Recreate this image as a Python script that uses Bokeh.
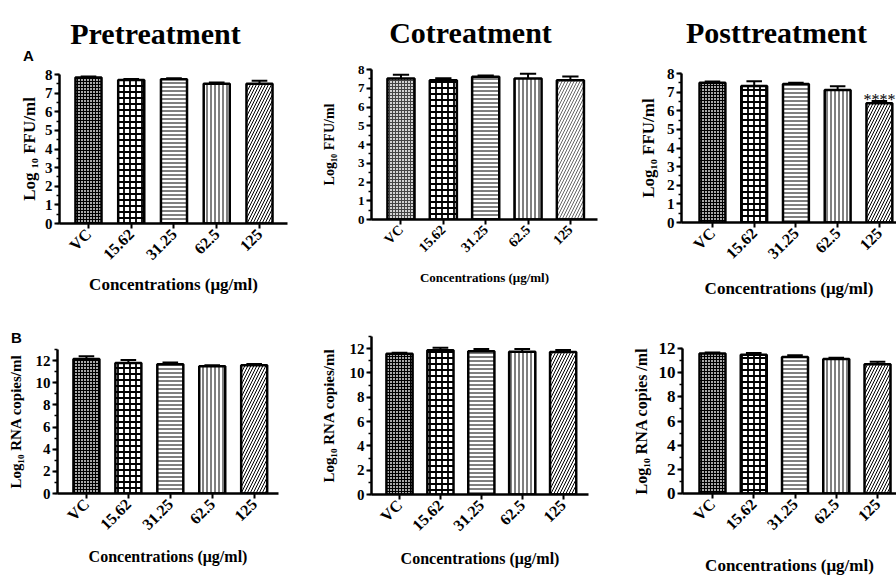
import math
from bokeh.plotting import figure
from bokeh.models import Range1d, FixedTicker, SingleIntervalTicker, Label
from bokeh.core.properties import value
from bokeh.layouts import row, column
from bokeh.embed import file_html
from bokeh.resources import INLINE

categories = ["VC", "15.62", "31.25", "62.5", "125"]

pre_ffu = [7.84, 7.71, 7.75, 7.51, 7.50]
pre_ffu_err = [0.05, 0.05, 0.05, 0.06, 0.16]
co_ffu = [7.52, 7.43, 7.61, 7.52, 7.43]
co_ffu_err = [0.20, 0.10, 0.07, 0.25, 0.20]
post_ffu = [7.50, 7.33, 7.44, 7.12, 6.40]
post_ffu_err = [0.07, 0.25, 0.07, 0.20, 0.13]

pre_rna = [12.15, 11.79, 11.67, 11.49, 11.58]
pre_rna_err = [0.25, 0.27, 0.15, 0.08, 0.12]
co_rna = [11.58, 11.86, 11.78, 11.75, 11.72]
co_rna_err = [0.08, 0.22, 0.19, 0.22, 0.16]
post_rna = [11.59, 11.48, 11.29, 11.13, 10.69]
post_rna_err = [0.08, 0.14, 0.16, 0.11, 0.22]

titles = ["Pretreatment", "Cotreatment", "Posttreatment"]
panel_letters = ["A", "B"]
x_title = "Concentrations (\u03bcg/ml)"
y_titles = ["Log \u2081\u2080 FFU/ml", "Log\u2081\u2080 FFU/ml", "Log\u2081\u2080 FFU/ml",
            "Log\u2081\u2080 RNA copies/ml", "Log\u2081\u2080 RNA copies/ml", "Log\u2081\u2080 RNA copies /ml"]
significance = "****"

SERIF = "Liberation Serif"
SANS = "Liberation Sans"

# pattern per category: (pattern, scale, weight, fill, hatch colour)
patterns = [
    ("cross", 3, 1.0, "#a8a8a8", "black"),
    ("cross", 6, 1.8, "white", "black"),
    ("horizontal_line", 4, 1.0, "white", "black"),
    ("vertical_line", 4, 1.0, "white", "black"),
    ("right_diagonal_line", 6, 1.0, "white", "black"),
]


def strip(w, h, items):
    s = figure(width=w, height=h, output_backend="svg", toolbar_location=None,
               x_range=Range1d(0, w), y_range=Range1d(h, 0),
               x_axis_type=None, y_axis_type=None, min_border=0, frame_align=False)
    s.outline_line_color = None
    s.background_fill_color = "white"
    s.border_fill_color = "white"
    for txt, x, y, font, size, align in items:
        s.text(x=[x], y=[y], text=[txt], text_font=value(font), text_font_style="bold",
               text_font_size=size, text_align=align, text_baseline="alphabetic", text_color="black")
    return s


def make_panel(vals, errs, spec):
    p = figure(width=spec["w"], height=spec["h"], output_backend="svg", toolbar_location=None,
               x_range=Range1d(*spec["xr"]), y_range=Range1d(0, spec["ytop"]),
               min_border_left=spec["bl"], min_border_right=spec["br"],
               min_border_top=spec["bt"], min_border_bottom=spec["bb"], frame_align=False)
    p.grid.visible = False
    p.outline_line_color = None
    p.background_fill_color = "white"
    p.border_fill_color = "white"

    xs = list(range(len(categories)))
    bw = spec["bw"]
    for i, x in enumerate(xs):
        pat, sc, wt, fc, hc = patterns[i]
        if spec.get("light"):
            if i == 4:
                hc = "#666666"
            if i == 0:
                fc = "#d2d2d2"
                hc = "#444444"
        p.vbar(x=[x], top=[vals[i]], width=bw, bottom=0, fill_color=fc, line_color="black",
               line_width=2.5, hatch_pattern=pat, hatch_scale=sc, hatch_color=hc,
               hatch_weight=wt)
    tops = [v + e for v, e in zip(vals, errs)]
    cw = bw * 0.3
    p.segment(x0=xs, y0=vals, x1=xs, y1=tops, line_color="black", line_width=2)
    p.segment(x0=[x - cw for x in xs], y0=tops, x1=[x + cw for x in xs], y1=tops,
              line_color="black", line_width=2)

    xa = p.xaxis[0]
    ya = p.yaxis[0]
    for ax in (xa, ya):
        ax.axis_line_width = 2.5
        ax.axis_line_color = "black"
        ax.major_tick_line_width = 2
        ax.major_tick_line_color = "black"
        ax.major_tick_in = 0
        ax.major_tick_out = 5
        ax.minor_tick_line_width = 1.5
        ax.minor_tick_in = 0
        ax.minor_tick_out = 3
        ax.major_label_text_font = SERIF
        ax.major_label_text_font_style = "bold"
        ax.major_label_text_color = "black"
        ax.axis_label_text_font = SERIF
        ax.axis_label_text_font_style = "bold"
        ax.axis_label_text_color = "black"
    xa.ticker = FixedTicker(ticks=xs)
    xa.major_label_overrides = {i: c for i, c in enumerate(categories)}
    xa.major_label_orientation = math.pi / 4
    xa.major_label_text_font_size = f"{spec['xtf']}px"
    xa.major_label_standoff = 3
    xa.axis_label = x_title
    xa.axis_label_text_font_size = f"{spec['xlf']}px"
    xa.axis_label_standoff = spec["xls"]

    ya.ticker = SingleIntervalTicker(interval=spec["yint"], num_minor_ticks=2)
    ya.major_label_text_font_size = f"{spec['ytf']}px"
    ya.major_label_standoff = 2
    ya.axis_label = spec["ylabel"]
    ya.axis_label_text_font_size = f"{spec['ylf']}px"
    ya.axis_label_standoff = spec["yls"]
    return p


TOP_H = 300
BOT_H = 279
top_strip_h = [64, 60, 62]
mid_strip_h = [46, 30, 30]
col_w = [300, 300, 296]

# frame top (absolute within its row band) for each panel
frame_tops = [74, 69, 73, 49, 36, 48]

specs = [
    dict(bl=59, br=13, bb=77, xr=(-0.678, 4.655), ytop=8, yint=1, bw=0.61,
         xtf=16, ytf=15, xlf=17, ylf=17, xls=3, yls=3, ylabel=y_titles[0]),
    dict(bl=71, br=3, bb=81, xr=(-0.696, 4.64), ytop=8, yint=1, bw=0.64,
         xtf=14, ytf=13, xlf=13, ylf=14, xls=7, yls=18, ylabel=y_titles[1], light=True),
    dict(bl=81, br=0, bb=78, xr=(-0.742, 4.41), ytop=8, yint=1, bw=0.62,
         xtf=16, ytf=15, xlf=17, ylf=17, xls=8, yls=6, ylabel=y_titles[2]),
    dict(bl=57, br=22, bb=86, xr=(-0.69, 4.58), ytop=13, yint=2, bw=0.62,
         xtf=16, ytf=15, xlf=16, ylf=15, xls=6, yls=9, ylabel=y_titles[3]),
    dict(bl=71, br=12, bb=85, xr=(-0.685, 4.62), ytop=13, yint=2, bw=0.64,
         xtf=16, ytf=15, xlf=16, ylf=15, xls=7, yls=10, ylabel=y_titles[4]),
    dict(bl=82, br=0, bb=86, xr=(-0.727, 4.46), ytop=12, yint=2, bw=0.63,
         xtf=16, ytf=17, xlf=17, ylf=16, xls=14, yls=6, ylabel=y_titles[5]),
]
for k, s in enumerate(specs):
    c = k % 3
    s["w"] = col_w[c]
    if k < 3:
        s["h"] = TOP_H - top_strip_h[c]
        s["bt"] = frame_tops[k] - top_strip_h[c]
    else:
        s["h"] = BOT_H - mid_strip_h[c]
        s["bt"] = frame_tops[k] - mid_strip_h[c]

data = [(pre_ffu, pre_ffu_err), (co_ffu, co_ffu_err), (post_ffu, post_ffu_err),
        (pre_rna, pre_rna_err), (co_rna, co_rna_err), (post_rna, post_rna_err)]

panels = [make_panel(v, e, s) for (v, e), s in zip(data, specs)]

# significance marker above the 125 bar of Posttreatment FFU
panels[2].add_layout(Label(x=4, y=post_ffu[4] + post_ffu_err[4] + 0.05, text=significance,
                           text_font=SERIF, text_font_size="16px", text_align="center",
                           text_baseline="alphabetic", text_color="black"))

top_strips = [
    strip(col_w[0], top_strip_h[0], [(titles[0], 155, 33, SERIF, "30px", "center"),
                                     (panel_letters[0], 28, 55, SANS, "15px", "center")]),
    strip(col_w[1], top_strip_h[1], [(titles[1], 170, 32, SERIF, "30px", "center")]),
    strip(col_w[2], top_strip_h[2], [(titles[2], 176, 32, SERIF, "30px", "center")]),
]
mid_strips = [
    strip(col_w[0], mid_strip_h[0], [(panel_letters[1], 16, 37, SANS, "15px", "center")]),
    strip(col_w[1], mid_strip_h[1], []),
    strip(col_w[2], mid_strip_h[2], []),
]

cols = [column(top_strips[c], panels[c], mid_strips[c], panels[c + 3]) for c in range(3)]
layout = row(*cols)

open("out.html", "w").write(file_html(layout, INLINE))
